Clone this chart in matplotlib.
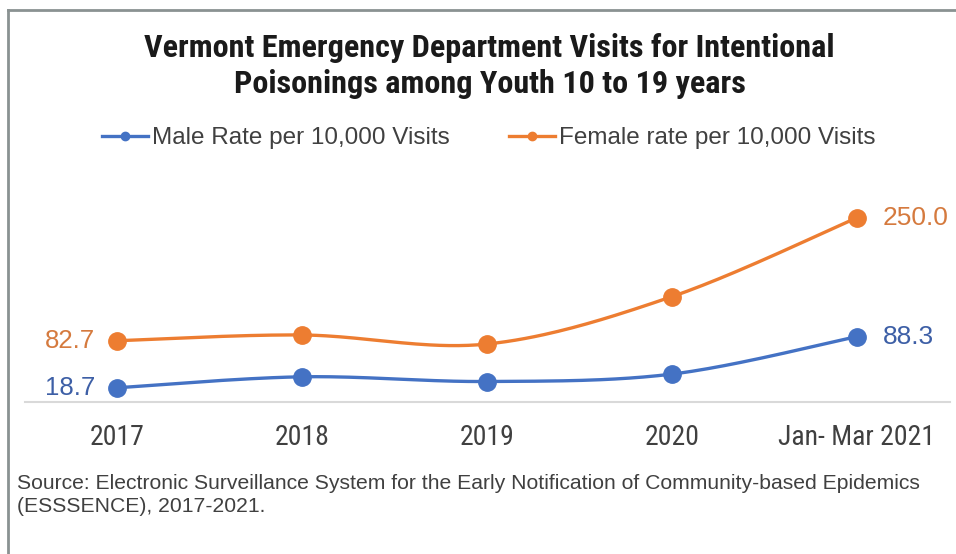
import numpy as np
import matplotlib
matplotlib.use('Agg')
import matplotlib.pyplot as plt
from matplotlib.lines import Line2D

categories = ['2017', '2018', '2019', '2020', 'Jan- Mar 2021']
male = [18.7, 33.6, 27.2, 37.3, 88.3]
female = [82.7, 90.5, 78.2, 142.7, 250.0]
series_names = ['Male Rate per 10,000 Visits', 'Female rate per 10,000 Visits']
title = 'Vermont Emergency Department Visits for Intentional\nPoisonings among Youth 10 to 19 years'
source = ('Source: Electronic Surveillance System for the Early Notification of Community-based Epidemics\n'
          '(ESSSENCE), 2017-2021.')

BLUE = '#4472C4'
ORANGE = '#ED7D31'
BLUE_TXT = '#3D5FA6'
ORANGE_TXT = '#D57A3E'
NARROW = ['Roboto Condensed', 'Liberation Sans Narrow', 'DejaVu Sans']
REG = ['Liberation Sans', 'DejaVu Sans']


def smooth(xs, ys, n=40):
    """Excel-like smoothed line (Catmull-Rom as cubic Bezier)."""
    P = np.column_stack([xs, ys]).astype(float)
    ext = np.vstack([P[0], P, P[-1]])
    out = []
    t = np.linspace(0, 1, n)[:, None]
    for i in range(len(P) - 1):
        p0, p1, p2, p3 = ext[i], ext[i + 1], ext[i + 2], ext[i + 3]
        c1 = p1 + (p2 - p0) / 6.0
        c2 = p2 - (p3 - p1) / 6.0
        seg = ((1 - t) ** 3) * p1 + 3 * ((1 - t) ** 2) * t * c1 + 3 * (1 - t) * t ** 2 * c2 + t ** 3 * p2
        out.append(seg if i == 0 else seg[1:])
    out = np.vstack(out)
    return out[:, 0], out[:, 1]


W, H = 956, 554
fig = plt.figure(figsize=(W / 100, H / 100), dpi=100)
fig.patch.set_facecolor('white')

ax = fig.add_axes([24.5 / W, 1 - 401.5 / H, 925 / W, (401.5 - 181) / H])
x = np.arange(len(categories))

for vals, col in [(male, BLUE), (female, ORANGE)]:
    sx, sy = smooth(x, vals)
    ax.plot(sx, sy, color=col, lw=2.4, solid_capstyle='round', zorder=2)
    ax.plot(x, vals, 'o', color=col, markersize=12.5, zorder=3)

ax.set_xlim(-0.5, len(categories) - 0.5)
ax.set_ylim(0, 300)
ax.set_yticks([])
ax.set_xticks(x)
ax.set_xticklabels(categories, fontsize=20, color='#404040', family=NARROW, fontstretch='condensed')
ax.tick_params(axis='x', length=0, pad=16)
for s in ['top', 'right', 'left']:
    ax.spines[s].set_visible(False)
ax.spines['bottom'].set_color('#D9D9D9')
ax.spines['bottom'].set_linewidth(1.5)
ax.patch.set_alpha(0)

# data labels for first and last points
for vals, col in [(male, BLUE_TXT), (female, ORANGE_TXT)]:
    ax.annotate(f'{vals[0]:.1f}', (x[0], vals[0]), xytext=(-15.5, 0), textcoords='offset points',
                ha='right', va='center', fontsize=18.5, color=col, family=REG)
    ax.annotate(f'{vals[-1]:.1f}', (x[-1], vals[-1]), xytext=(18.5, 0), textcoords='offset points',
                ha='left', va='center', fontsize=19, color=col, family=REG)

# title
fig.text(0.512, 1 - 66 / H, title, ha='center', va='center', fontsize=23.2, fontweight='bold',
         family=NARROW, fontstretch='condensed', color='#1a1a1a', linespacing=1.22)

# legend
handles = [Line2D([], [], color=BLUE, lw=2.4, marker='o', markersize=6),
           Line2D([], [], color=ORANGE, lw=2.4, marker='o', markersize=6)]
fig.legend(handles, series_names, loc='center', bbox_to_anchor=(488.5 / W, 1 - 138 / H), ncol=2,
           frameon=False, handlelength=1.9, handletextpad=0.15, columnspacing=2.45,
           prop={'family': REG, 'size': 17.5}, labelcolor='#404040')

# source
fig.text(17 / W, 1 - 495 / H, source, ha='left', va='center', fontsize=15.2, color='#404040',
         family=REG, linespacing=1.3)

# frame border (top and left)
fig.add_artist(Line2D([7.5 / W, 1.0], [1 - 10 / H, 1 - 10 / H], transform=fig.transFigure,
                      color='#8A9292', lw=2.0))
fig.add_artist(Line2D([7.5 / W, 7.5 / W], [0, 1 - 10 / H], transform=fig.transFigure,
                      color='#8A9292', lw=2.0))

fig.savefig('out.png', dpi=100, facecolor='white')
